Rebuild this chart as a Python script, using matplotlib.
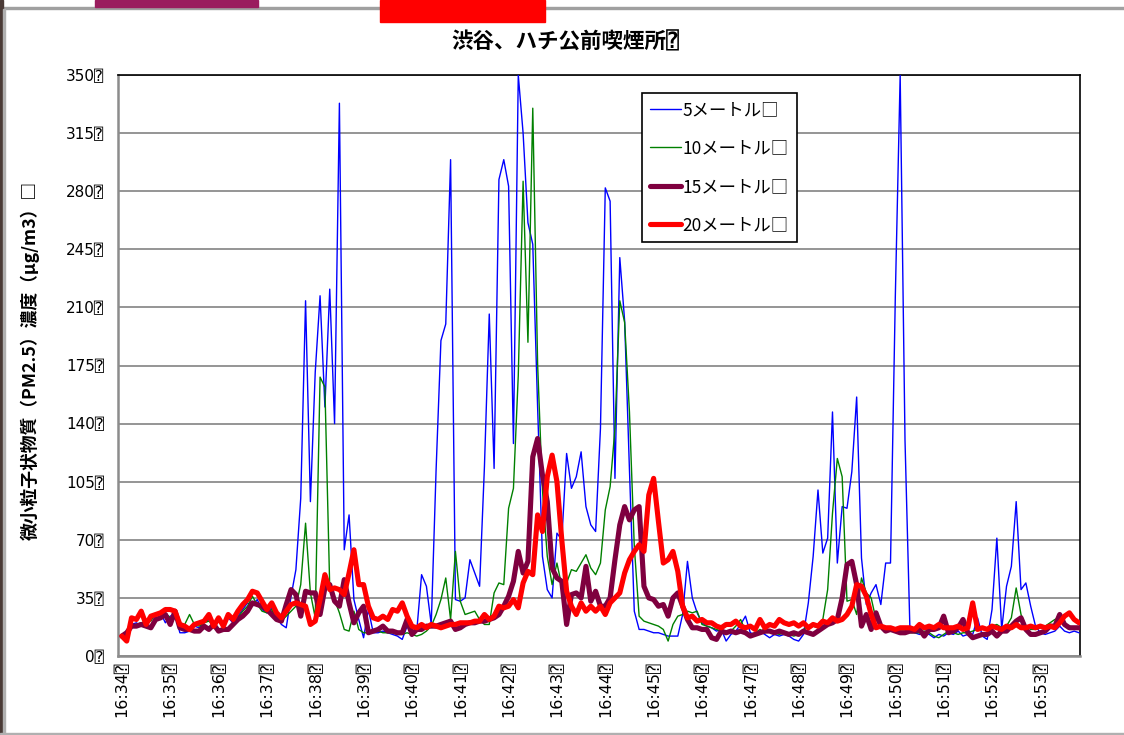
import matplotlib
matplotlib.use('Agg')
import matplotlib.pyplot as plt
from matplotlib.patches import Rectangle

# PM2.5 readings every 6 s, 16:34:00 onward (one list per distance)
m5 = [12, 13, 19, 20, 18, 20, 22, 24, 26, 20,
      24, 25, 14, 14, 15, 18, 17, 20, 22, 17,
      21, 19, 23, 20, 24, 28, 32, 30, 34, 28,
      26, 29, 24, 19, 17, 36, 52, 95, 214, 93,
      171, 217, 150, 221, 140, 333, 64, 85, 34, 22,
      11, 28, 14, 14, 15, 14, 13, 12, 10, 18,
      12, 15, 49, 42, 19, 112, 190, 200, 299, 34,
      33, 35, 58, 50, 42, 114, 206, 113, 287, 299,
      283, 128, 350, 315, 261, 248, 150, 60, 40, 35,
      74, 70, 122, 101, 108, 123, 90, 79, 75, 137,
      282, 274, 107, 240, 202, 112, 27, 16, 16, 15,
      14, 14, 13, 12, 12, 12, 25, 57, 35, 26,
      20, 18, 17, 15, 16, 9, 13, 15, 19, 24,
      14, 13, 15, 13, 11, 13, 12, 13, 12, 10,
      9, 13, 32, 60, 100, 62, 71, 147, 56, 90,
      89, 111, 156, 59, 31, 38, 43, 31, 56, 56,
      217, 350, 130, 18, 14, 13, 14, 13, 11, 13,
      12, 14, 13, 15, 12, 13, 13, 23, 12, 10,
      28, 71, 16, 42, 54, 93, 40, 44, 30, 18,
      14, 13, 14, 15, 18, 15, 14, 15, 14]

m10 = [12, 13, 18, 19, 20, 21, 21, 26, 25, 26,
       23, 24, 17, 19, 25, 19, 18, 20, 21, 19,
       22, 20, 24, 21, 23, 27, 30, 36, 31, 27,
       26, 28, 22, 21, 24, 27, 30, 43, 80, 38,
       23, 168, 162, 41, 34, 26, 16, 15, 27, 16,
       14, 14, 16, 15, 14, 14, 14, 13, 13, 14,
       13, 12, 13, 15, 18, 25, 34, 47, 22, 63,
       33, 25, 26, 27, 22, 19, 19, 38, 44, 43,
       89, 101, 169, 286, 189, 330, 176, 100, 60, 43,
       56, 42, 44, 52, 51, 56, 61, 53, 49, 56,
       88, 102, 137, 214, 201, 147, 66, 24, 21, 20,
       19, 18, 16, 9, 19, 24, 25, 27, 26, 27,
       19, 18, 17, 16, 15, 14, 15, 18, 22, 15,
       13, 14, 16, 14, 15, 14, 13, 14, 13, 12,
       13, 16, 18, 18, 17, 22, 40, 86, 119, 108,
       33, 34, 25, 47, 38, 35, 22, 18, 17, 16,
       16, 15, 15, 14, 14, 14, 15, 14, 12, 11,
       13, 15, 14, 13, 14, 14, 15, 16, 17, 17,
       18, 19, 17, 18, 23, 41, 25, 18, 16, 16,
       17, 18, 20, 22, 23, 19, 18, 17, 17]

m15 = [12, 14, 18, 18, 19, 18, 17, 22, 23, 25,
       19, 27, 17, 16, 16, 15, 15, 18, 16, 19,
       15, 16, 16, 19, 22, 24, 27, 32, 31, 30,
       28, 25, 22, 21, 31, 40, 37, 24, 39, 38,
       38, 25, 41, 43, 33, 30, 46, 32, 20, 26,
       30, 14, 15, 16, 18, 15, 15, 14, 14, 22,
       13, 16, 16, 18, 18, 18, 19, 20, 21, 16,
       17, 19, 20, 20, 21, 21, 22, 23, 25, 30,
       36, 45, 63, 50, 57, 120, 131, 109, 93, 53,
       47, 45, 19, 37, 38, 35, 54, 33, 39, 30,
       30, 35, 58, 79, 90, 82, 88, 90, 42, 35,
       34, 30, 31, 24, 35, 38, 30, 22, 17, 17,
       16, 16, 11, 10, 15, 14, 15, 14, 15, 14,
       12, 13, 14, 15, 15, 14, 15, 14, 13, 14,
       13, 15, 14, 13, 15, 17, 19, 20, 22, 35,
       55, 57, 43, 18, 25, 16, 26, 18, 15, 16,
       15, 14, 14, 15, 15, 16, 12, 16, 16, 17,
       24, 14, 15, 17, 22, 14, 11, 12, 13, 13,
       15, 12, 15, 15, 18, 21, 23, 16, 13, 13,
       14, 15, 18, 18, 25, 19, 17, 17, 17]

m20 = [12, 9, 23, 22, 27, 19, 24, 25, 26, 28,
       28, 27, 19, 18, 16, 19, 20, 21, 25, 18,
       23, 18, 25, 22, 27, 31, 34, 39, 38, 33,
       28, 32, 26, 23, 27, 31, 32, 31, 30, 19,
       21, 34, 49, 40, 41, 40, 37, 50, 64, 43,
       43, 30, 23, 22, 24, 22, 28, 27, 32, 24,
       18, 17, 19, 17, 19, 18, 17, 18, 19, 19,
       20, 20, 20, 21, 21, 25, 22, 24, 30, 29,
       30, 34, 29, 44, 51, 49, 85, 75, 108, 121,
       105, 70, 39, 30, 25, 32, 27, 30, 27, 30,
       25, 32, 35, 38, 50, 58, 63, 67, 63, 97,
       107, 81, 56, 58, 63, 51, 30, 23, 24, 21,
       22, 20, 20, 18, 17, 19, 19, 21, 18, 17,
       18, 16, 22, 17, 19, 18, 22, 20, 19, 20,
       18, 20, 17, 19, 18, 21, 20, 23, 21, 22,
       25, 30, 43, 42, 36, 25, 17, 18, 17, 17,
       16, 17, 17, 17, 16, 19, 17, 18, 17, 19,
       17, 17, 17, 18, 16, 17, 32, 16, 17, 16,
       18, 17, 16, 18, 17, 19, 17, 17, 18, 17,
       18, 17, 18, 17, 20, 24, 26, 22, 20]

series_names = ['5メートル', '10メートル', '15メートル', '20メートル']
series_colors = ['#0000ff', '#008000', '#7f003f', '#ff0000']
series_widths = [1.0, 1.0, 3.7, 3.7]

minute_labels = ['16:34', '16:35', '16:36', '16:37', '16:38', '16:39', '16:40',
                 '16:41', '16:42', '16:43', '16:44', '16:45', '16:46', '16:47',
                 '16:48', '16:49', '16:50', '16:51', '16:52', '16:53']
samples_per_label = 10
y_ticks = [0, 35, 70, 105, 140, 175, 210, 245, 280, 315, 350]

TOFU = '\u2370'   # small boxed question mark, as in the source
BOX = '\u25a1'

plt.rcParams['font.family'] = ['DejaVu Sans', 'Noto Sans CJK JP', 'DejaVu Sans Mono']
JP = ['Noto Sans CJK JP', 'DejaVu Sans', 'DejaVu Sans Mono']

W, H = 1124, 735
fig = plt.figure(figsize=(W / 100, H / 100), dpi=100)
fig.patch.set_facecolor('white')

# page chrome around the chart
fig.patches.append(Rectangle((0, 1 - 9 / H), 1, 1.5 / H, transform=fig.transFigure,
                             color='#a0a0a0', zorder=1))
fig.patches.append(Rectangle((95 / W, 1 - 7 / H), 163 / W, 7 / H, transform=fig.transFigure,
                             color='#9a1d5e', zorder=2))
fig.patches.append(Rectangle((380 / W, 1 - 22 / H), 165 / W, 22 / H, transform=fig.transFigure,
                             color='#ff0000', zorder=2))
fig.patches.append(Rectangle((0, 0), 3 / W, 1, transform=fig.transFigure,
                             color='#4a3a36', zorder=2))
fig.patches.append(Rectangle((3 / W, 0), 1.5 / W, 1 - 9 / H, transform=fig.transFigure,
                             color='#b0b0b0', zorder=2))
fig.patches.append(Rectangle((0, 1 / H), 1, 1.5 / H, transform=fig.transFigure,
                             color='#b0b0b0', zorder=2))

ax = fig.add_axes([118 / W, 1 - 656 / H, (1080 - 118) / W, (656 - 75) / H])

for vals, name, col, lw in zip([m5, m10, m15, m20], series_names, series_colors, series_widths):
    ax.plot(range(len(vals)), vals, color=col, lw=lw, label=name + BOX,
            solid_joinstyle='round', solid_capstyle='round', zorder=3)

ax.set_xlim(-0.8, len(m5) - 0.8)
ax.set_ylim(0, 350)

ax.set_yticks(y_ticks)
ax.set_yticklabels([f'{v}{TOFU}' for v in y_ticks], fontsize=11)
ax.set_xticks([k * samples_per_label for k in range(len(minute_labels))])
ax.set_xticklabels([t + TOFU for t in minute_labels], rotation=90, fontsize=11.5)
ax.tick_params(axis='y', length=0, pad=10)
ax.tick_params(axis='x', length=0, pad=4)

ax.grid(axis='y', color='#8c8c8c', lw=1.3)
ax.set_axisbelow(True)
for side in ['top', 'right']:
    ax.spines[side].set_color('black')
    ax.spines[side].set_linewidth(1.2)
for side in ['left', 'bottom']:
    ax.spines[side].set_color('#8c8c8c')
    ax.spines[side].set_linewidth(1.8)

fig.text(565 / W, 1 - 42 / H, '渋谷、ハチ公前喫煙所' + TOFU, ha='center', va='center',
         fontsize=15.5, fontweight='bold', family=JP)
fig.text(30 / W, 1 - 360 / H, '微小粒子状物質（PM2.5）濃度（μg/m3）' + BOX, rotation=90,
         ha='center', va='center', fontsize=12.8, fontweight='bold', family=JP)

leg = ax.legend(loc='upper left', bbox_to_anchor=(642 / W, 1 - 93 / H),
                bbox_transform=fig.transFigure, borderaxespad=0, fancybox=False,
                framealpha=1, edgecolor='black', prop={'family': JP, 'size': 12.5},
                handlelength=1.8, handletextpad=0.1, labelspacing=1.18, borderpad=0.45)
leg.get_frame().set_linewidth(1.2)

fig.savefig('out.png', dpi=100)
